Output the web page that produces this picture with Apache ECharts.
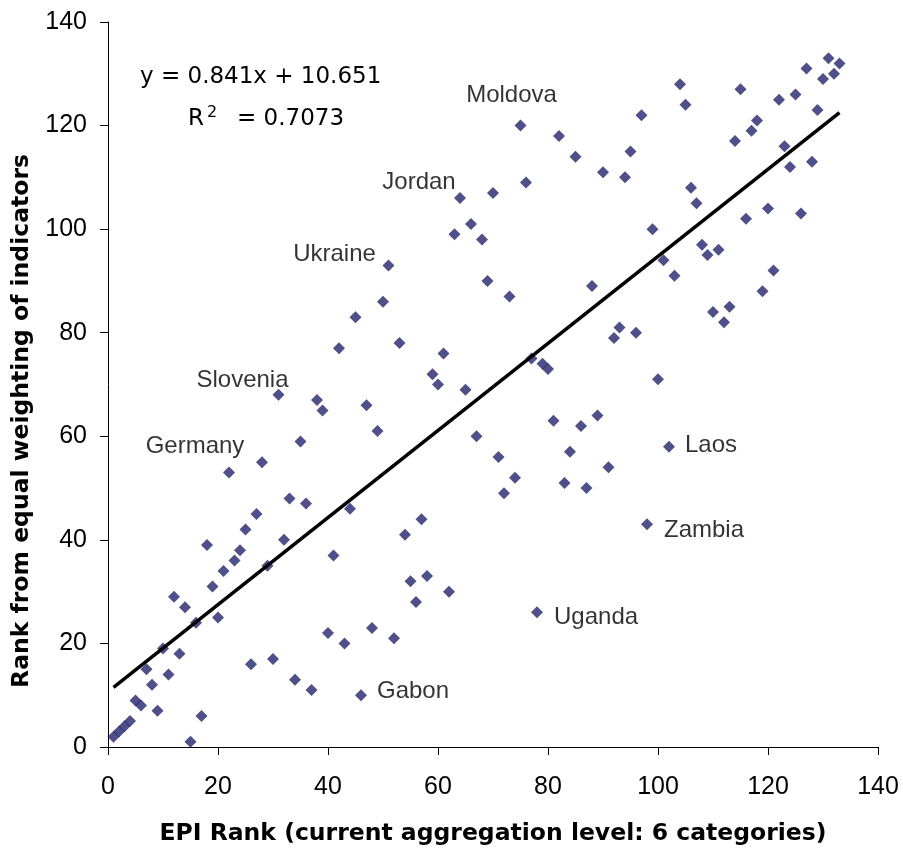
<!DOCTYPE html>
<html>
<head>
<meta charset="utf-8">
<script src="https://cdn.jsdelivr.net/npm/echarts@6/dist/echarts.min.js"></script>
<style>html,body{margin:0;padding:0;background:#fff;}#c{width:903px;height:852px;}</style>
</head>
<body>
<div id="c"></div>
<script>
// EPI rank (x) and rank from equal weighting of indicators (y)
const epiRank = [1,2,3,4,5,6,7,8,9,10,11,12,13,14,15,16,17,18,19,20,
  21,22,23,24,25,26,27,28,29,30,31,32,33,34,35,36,37,38,39,40,
  41,42,43,44,45,46,47,48,49,50,51,52,53,54,55,56,57,58,59,60,
  61,62,63,64,65,66,67,68,69,70,71,72,73,74,75,76,77,78,79,80,
  81,82,83,84,85,86,87,88,89,90,91,92,93,94,95,96,97,98,99,100,
  101,102,103,104,105,106,107,108,109,110,111,112,113,114,115,116,117,118,119,120,
  121,122,123,124,125,126,127,128,129,130,131,132,133];
const equalRank = [2,3,4,5,9,8,15,12,7,19,14,29,18,27,1,24,6,39,31,25,
  34,53,36,38,42,16,45,55,35,17,68,40,48,13,59,47,11,67,65,22,
  37,77,20,46,83,10,66,23,61,86,93,21,78,41,32,28,44,33,72,70,
  76,30,99,106,69,101,60,98,90,107,56,49,87,52,120,109,75,26,74,73,
  63,118,51,57,114,62,50,89,64,111,54,79,81,110,115,80,122,43,100,71,
  94,58,91,128,124,108,105,97,95,84,96,82,85,117,127,102,119,121,88,104,
  92,125,116,112,126,103,131,113,123,129,133,130,132];
// Labelled countries (by EPI rank)
const labelNames = ['Moldova','Jordan','Ukraine','Slovenia','Germany','Gabon','Uganda','Zambia','Laos'];
const labelRanks = [75,64,51,31,22,46,78,98,102];
// Trendline
const slope = 0.841, intercept = 10.651;
const eqText = 'y = 0.841x + 10.651';
const r2Base = 'R', r2Sup = '2', r2Rest = '= 0.7073';
const xTicks = [0,20,40,60,80,100,120,140];

const FONT = '"Liberation Sans", Arial, sans-serif';
const TFONT = '"DejaVu Sans", "Liberation Sans", Arial, sans-serif';
const labelStyle = {
  Moldova:  {offset:[-9,-30], align:'center'},
  Jordan:   {offset:[-41,-16], align:'center'},
  Ukraine:  {offset:[-54,-11], align:'center'},
  Slovenia: {offset:[-36,-14], align:'center'},
  Germany:  {offset:[-34,-26], align:'center'},
  Gabon:    {offset:[16,-4], align:'left'},
  Uganda:   {offset:[17,5], align:'left'},
  Zambia:   {offset:[17,6], align:'left'},
  Laos:     {offset:[16,-1], align:'left'}
};

const points = epiRank.map((x, i) => {
  const item = {value: [x, equalRank[i]]};
  const li = labelRanks.indexOf(x);
  if (li >= 0) {
    const nm = labelNames[li];
    const st = labelStyle[nm];
    item.name = nm;
    item.label = {
      show: true, formatter: nm, position: 'inside',
      offset: st.offset, align: st.align, verticalAlign: 'middle',
      color: '#000', fontSize: 24, fontFamily: FONT, textBorderWidth: 0
    };
  }
  return item;
});

const x0 = epiRank[0], x1 = epiRank[epiRank.length - 1];
const trend = [[x0, slope * x0 + intercept], [x1, slope * x1 + intercept]];

const chart = echarts.init(document.getElementById('c'), null, {renderer: 'canvas'});
chart.setOption({
  animation: false,
  backgroundColor: '#fff',
  grid: {left: 108, right: 25, top: 22, bottom: 105, containLabel: false},
  xAxis: {
    type: 'value', min: xTicks[0], max: xTicks[xTicks.length - 1], interval: 20,
    name: 'EPI Rank (current aggregation level: 6 categories)',
    nameLocation: 'middle', nameGap: 75,
    nameTextStyle: {fontSize: 23.5, fontWeight: 'bold', color: '#000', fontFamily: TFONT},
    axisLine: {show: true, onZero: false, lineStyle: {color: '#000', width: 1}},
    axisTick: {show: true, inside: false, length: 8, lineStyle: {color: '#000'}},
    axisLabel: {fontSize: 25, color: '#000', margin: 28, fontFamily: FONT},
    splitLine: {show: false}
  },
  yAxis: {
    type: 'value', min: 0, max: 140, interval: 20,
    axisLine: {show: true, onZero: false, lineStyle: {color: '#000', width: 1}},
    axisTick: {show: true, inside: false, length: 8, lineStyle: {color: '#000'}},
    axisLabel: {fontSize: 25, color: '#000', margin: 21, fontFamily: FONT},
    splitLine: {show: false}
  },
  graphic: [
    {type: 'text', x: 140, y: 77, z: 100,
     style: {text: eqText, fontSize: 23, fontFamily: TFONT, fill: '#000', textAlign: 'left', textVerticalAlign: 'middle'}},
    {type: 'text', x: 188, y: 119, z: 100,
     style: {text: r2Base, fontSize: 23, fontFamily: TFONT, fill: '#000', textAlign: 'left', textVerticalAlign: 'middle'}},
    {type: 'text', x: 207, y: 113, z: 100,
     style: {text: r2Sup, fontSize: 16, fontFamily: TFONT, fill: '#000', textAlign: 'left', textVerticalAlign: 'middle'}},
    {type: 'text', x: 237, y: 119, z: 100,
     style: {text: r2Rest, fontSize: 23, fontFamily: TFONT, fill: '#000', textAlign: 'left', textVerticalAlign: 'middle'}},
    {type: 'text', x: 22, y: 421, rotation: Math.PI / 2, z: 100,
     style: {text: 'Rank from equal weighting of indicators', fontSize: 23.5, fontWeight: 'bold', fontFamily: TFONT, fill: '#000', textAlign: 'center', textVerticalAlign: 'middle'}}
  ],
  series: [
    {
      type: 'scatter', symbol: 'diamond', symbolSize: 12,
      itemStyle: {color: '#23236c'},
      data: points, z: 2
    },
    {
      type: 'line', data: trend, symbol: 'none', z: 3,
      lineStyle: {color: '#000', width: 3.5}
    }
  ]
});
</script>
</body>
</html>
